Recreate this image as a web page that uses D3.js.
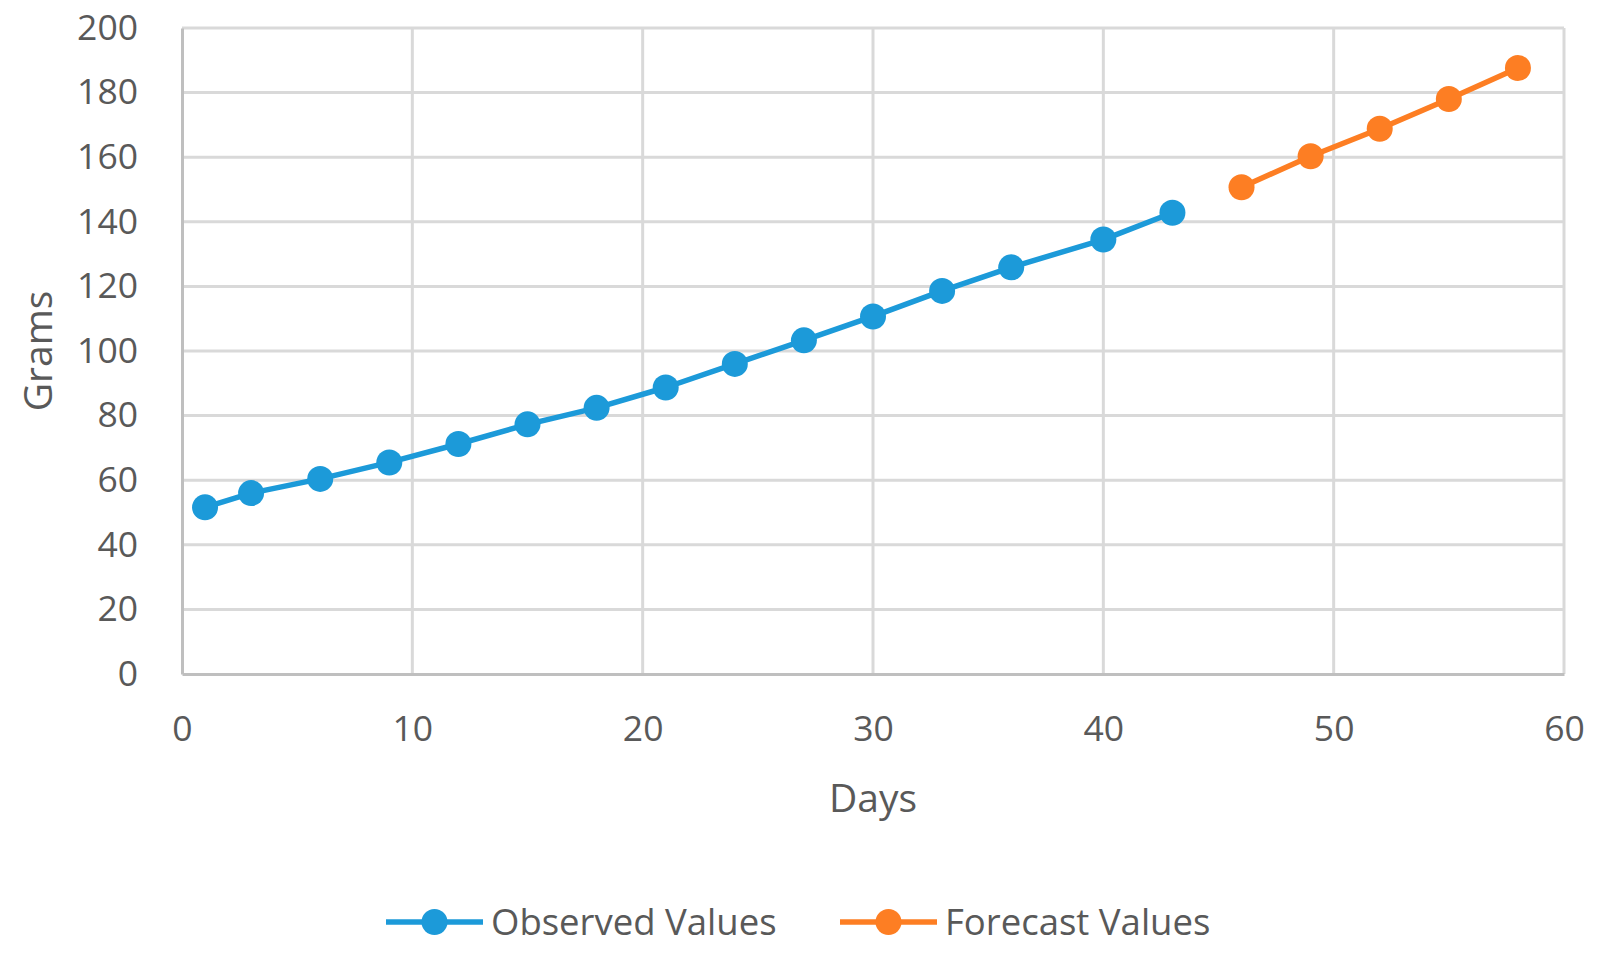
<!DOCTYPE html>
<html>
<head>
<meta charset="utf-8">
<script src="https://cdn.jsdelivr.net/npm/d3@7"></script>
<style>
  body { margin: 0; background: #fff; }
  svg text { font-family: "Open Sans", sans-serif; fill: #595959; }
  .grid line { stroke: #d9d9d9; stroke-width: 3; }
  .axis path, .axis line { stroke: #bfbfbf; stroke-width: 3; }
</style>
</head>
<body>
<svg class="chart"></svg>
<script>
  var obsDays = [1, 3, 6, 9, 12, 15, 18, 21, 24, 27, 30, 33, 36, 40, 43];
  var obsGrams = [51.6, 56, 60.4, 65.5, 71.2, 77.3, 82.4, 88.7, 96, 103.3, 110.7, 118.6, 125.9, 134.5, 142.8];
  var forecastDays = [46, 49, 52, 55, 58];
  var forecastGrams = [150.7, 160.3, 168.8, 178, 187.6];
  var xTicks = [0, 10, 20, 30, 40, 50, 60];
  var yTicks = [0, 20, 40, 60, 80, 100, 120, 140, 160, 180, 200];

  var outerWidth = 1611;
  var outerHeight = 959;
  var margin = {top: 28, right: 47, bottom: 285, left: 182};
  var innerWidth = outerWidth - margin.left - margin.right;
  var innerHeight = outerHeight - margin.top - margin.bottom;

  var series = [
    {name: 'Observed Values', color: '#1c9ad9',
      points: obsDays.map(function (d, i) { return {x: d, y: obsGrams[i]}; })},
    {name: 'Forecast Values', color: '#fd7e23',
      points: forecastDays.map(function (d, i) { return {x: d, y: forecastGrams[i]}; })}
  ];

  var chart = d3.select('.chart')
      .attr('width', outerWidth)
      .attr('height', outerHeight);
  var chartInner = chart.append('g')
      .attr('transform', 'translate(' + margin.left + ',' + margin.top + ')');

  var x = d3.scaleLinear().domain([0, 60]).range([0, innerWidth]);
  var y = d3.scaleLinear().domain([0, 200]).range([innerHeight, 0]);

  // gridlines
  var grid = chartInner.append('g').attr('class', 'grid');
  grid.selectAll('.h').data(yTicks.slice(1)).enter().append('line')
    .attr('x1', 0).attr('x2', innerWidth)
    .attr('y1', function (d) { return y(d); })
    .attr('y2', function (d) { return y(d); });
  grid.selectAll('.v').data(xTicks.slice(1)).enter().append('line')
    .attr('y1', 0).attr('y2', innerHeight)
    .attr('x1', function (d) { return x(d); })
    .attr('x2', function (d) { return x(d); });

  // axes
  var xAxis = d3.axisBottom(x).tickValues(xTicks).tickSize(0).tickPadding(54);
  var yAxis = d3.axisLeft(y).tickValues(yTicks).tickSize(0).tickPadding(44);

  chartInner.append('g')
    .attr('class', 'x axis')
    .attr('transform', 'translate(0,' + innerHeight + ')')
    .call(xAxis)
    .attr('font-size', 35.5)
    .attr('font-family', '"Open Sans", sans-serif')
    .call(function (g) { g.selectAll('text').attr('dy', '0.36em'); });

  chartInner.append('g')
    .attr('class', 'y axis')
    .call(yAxis)
    .attr('font-size', 35.5)
    .attr('font-family', '"Open Sans", sans-serif');

  // axis titles
  chart.append('text')
    .attr('x', margin.left + x(30))
    .attr('y', 798)
    .attr('dy', '0.35em')
    .attr('text-anchor', 'middle')
    .attr('font-size', 39)
    .text('Days');

  chart.append('text')
    .attr('transform', 'translate(38,' + (margin.top + y(100)) + ') rotate(-90)')
    .attr('dy', '0.35em')
    .attr('text-anchor', 'middle')
    .attr('font-size', 39)
    .text('Grams');

  // series
  var line = d3.line()
    .x(function (d) { return x(d.x); })
    .y(function (d) { return y(d.y); });

  var dataLayer = chartInner.selectAll('.data')
    .data(series)
    .enter().append('g')
      .attr('class', 'data');

  dataLayer.append('path')
    .attr('fill', 'none')
    .attr('stroke', function (d) { return d.color; })
    .attr('stroke-width', 5.5)
    .attr('stroke-linejoin', 'round')
    .attr('d', function (d) { return line(d.points); });

  dataLayer.each(function (s) {
    d3.select(this).selectAll('circle')
      .data(s.points).enter()
      .append('circle')
      .attr('cx', function (d) { return x(d.x); })
      .attr('cy', function (d) { return y(d.y); })
      .attr('r', 13)
      .attr('fill', s.color);
  });

  // legend
  var legendX = [386, 840];
  var legend = chart.selectAll('.legend')
    .data(series)
    .enter().append('g')
      .attr('class', 'legend')
      .attr('transform', function (d, i) { return 'translate(' + legendX[i] + ',922)'; });

  legend.append('line')
    .attr('x1', 0).attr('x2', 97)
    .attr('stroke', function (d) { return d.color; })
    .attr('stroke-width', 5.5);
  legend.append('circle')
    .attr('cx', 48.5)
    .attr('r', 13)
    .attr('fill', function (d) { return d.color; });
  legend.append('text')
    .attr('x', 105)
    .attr('dy', '0.35em')
    .attr('font-size', 36.5)
    .text(function (d) { return d.name; });
</script>
</body>
</html>
